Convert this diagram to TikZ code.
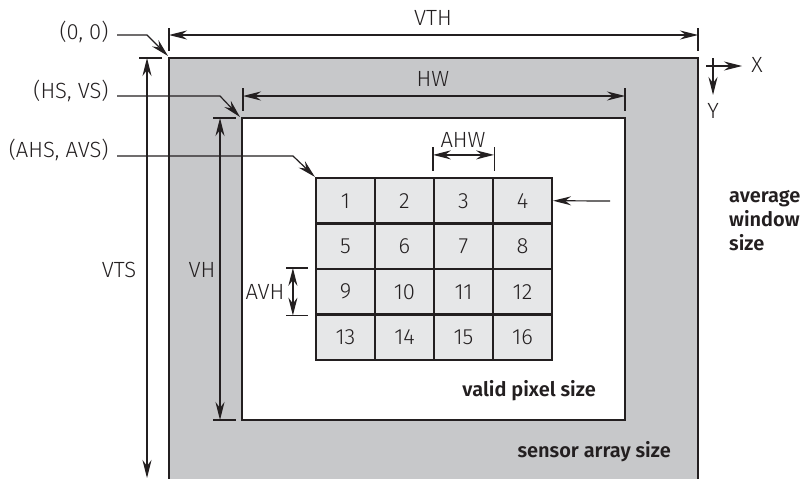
\documentclass[tikz,border=0pt]{standalone}
\usepackage{fontspec}
\setmainfont{Fira Sans}[UprightFont=* Light,BoldFont=* SemiBold]
\usetikzlibrary{arrows.meta,positioning,calc}
\definecolor{sink}{HTML}{231F20}
\definecolor{sgrey}{HTML}{C7C8CA}
\definecolor{scell}{HTML}{E6E7E8}

\begin{document}
\begin{tikzpicture}[x=1pt,y=-1pt,
  every node/.style={font=\fontsize{22}{26}\selectfont,text=sink},
  frame/.style={draw=sink,line width=2.2pt},
  cell/.style={frame,fill=scell,minimum width=59pt,minimum height=45.5pt,inner sep=0pt},
  dim/.style={draw=sink,line width=1.2pt},
  dimboth/.style={dim,{Stealth[length=18pt,width=9pt,inset=6pt]}-{Stealth[length=18pt,width=9pt,inset=6pt]}},
  leader/.style={dim,-{Stealth[length=18pt,width=9pt,inset=6pt]}},
  boldlbl/.style={font=\fontsize{20}{24}\selectfont\bfseries,inner sep=0pt}]
  \useasboundingbox (0,0) rectangle (803,479);

  % sensor array and valid pixel area
  \path[frame,fill=sgrey] (169,58) rectangle (698,520);
  \path[frame,fill=white] (242,118) rectangle (625,420);

  % average windows
  \foreach \r in {0,...,3}
    \foreach \c in {0,...,3}{
      \pgfmathtruncatemacro{\n}{4*\r+\c+1}
      \node[cell] (c\n) at (345.5+59*\c,200.75+45.5*\r) {\n};
    }

  % VTH
  \coordinate (vthl) at (169,35);
  \coordinate (vthr) at (698,35);
  \draw[dim] (169,28) -- (169,51) (698,28) -- (698,51);
  \draw[dimboth] (vthl) -- (vthr);
  \node (vth) at (433,18) {VTH};

  % VTS
  \coordinate (vtst) at (147,58);
  \coordinate (vtsb) at (147,478);
  \draw[dim] (139,58) -- (162,58);
  \draw[dimboth] (vtst) -- (vtsb);
  \node (vts) at (119,270) {VTS};

  % HW
  \coordinate (hwl) at (243,96);
  \coordinate (hwr) at (625,96);
  \draw[dim] (243,88) -- (243,111) (625,88) -- (625,111);
  \draw[dimboth] (hwl) -- (hwr);
  \node (hw) at (433,79) {HW};

  % VH
  \coordinate (vht) at (220,118);
  \coordinate (vhb) at (220,420);
  \draw[dim] (213,118) -- (236,118) (213,420) -- (236,420);
  \draw[dimboth] (vht) -- (vhb);
  \node (vh) at (202,270) {VH};

  % AHW
  \draw[dim] ($(c3.north west)+(0,-6)$) -- ++(0,-24) ($(c3.north east)+(0,-6)$) -- ++(0,-24);
  \coordinate (ahwl) at ($(c3.north west)+(0,-22)$);
  \coordinate (ahwr) at ($(c3.north east)+(0,-22)$);
  \draw[dimboth] (ahwl) -- (ahwr);
  \node (ahw) at (463,140) {AHW};

  % AVH
  \draw[dim] ($(c9.north west)+(-7,0)$) -- ++(-22,0) ($(c9.south west)+(-7,0)$) -- ++(-22,0);
  \coordinate (avht) at ($(c9.north west)+(-22,0)$);
  \coordinate (avhb) at ($(c9.south west)+(-22,0)$);
  \draw[dimboth] (avht) -- (avhb);
  \node (avh) at (265,292) {AVH};

  % start points
  \node[anchor=east] (org) at (112,32) {(0, 0)};
  \node[anchor=east] (hsvs) at (112,91) {(HS, VS)};
  \node[anchor=east] (ahsavs) at (112,150) {(AHS, AVS)};
  \draw[leader] (117,35) -- (147,35) -- (168,56);
  \draw[leader] (117,96) -- (220,96) -- (240,117);
  \draw[leader] (117,156) -- (293,156) -- (c1.north west);

  % window size
  \coordinate (aws) at (610,201);
  \draw[leader] (aws) -- (c4.east);
  \node[boldlbl,anchor=west,align=left] (awsl) at (729,221) {average\\window\\size};

  \node[boldlbl,anchor=east] (valid) at (596,391) {valid pixel size};
  \node[boldlbl,anchor=east] (sensor) at (671,452) {sensor array size};

  % axes
  \draw[leader] (706,66) -- (742,66);
  \draw[leader] (713,58) -- (713,95);
  \node (xl) at (757,65) {X};
  \node (yl) at (713,111) {Y};
\end{tikzpicture}
\end{document}
